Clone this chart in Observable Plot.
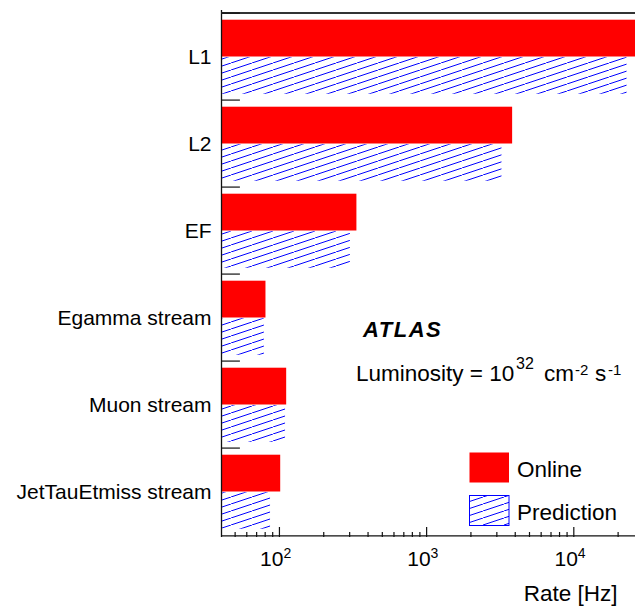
<!DOCTYPE html>
<html><head><meta charset="utf-8">
<script src="https://cdn.jsdelivr.net/npm/d3@7"></script>
<script src="https://cdn.jsdelivr.net/npm/@observablehq/plot@0.6"></script>
<style>
html,body{margin:0;padding:0;background:#fff;overflow:hidden}
svg{font-family:"Liberation Sans",Arial,Helvetica,sans-serif}
</style>
</head><body><div id="chart"></div>
<script>
const categories = ["L1", "L2", "EF", "Egamma stream", "Muon stream", "JetTauEtmiss stream"];
const online = [30000, 3840, 336, 81, 112, 102];
const prediction = [23000, 3250, 303, 79, 110, 87];
const majorTicks = [100, 1000, 10000];
const tickExponents = ["2", "3", "4"];
const minorTicks = [50, 60, 70, 80, 90, 200, 300, 400, 500, 600, 700, 800, 900,
  2000, 3000, 4000, 5000, 6000, 7000, 8000, 9000, 20000];
const xDomain = [40.4, 26250];
const xLabel = "Rate [Hz]";
const legendLabels = ["Online", "Prediction"];

const lo = xDomain[0];
const rows = categories.map((c, i) => ({cat: c, online: online[i], prediction: prediction[i]}));
const half = 527 / 6 / 2;

const svg = Plot.plot({
  width: 635, height: 613,
  marginTop: 10, marginLeft: 221, marginRight: 0, marginBottom: 76,
  style: {background: "white", color: "black", fontFamily: '"Liberation Sans", Arial, sans-serif'},
  x: {type: "log", domain: xDomain, axis: null},
  y: {domain: categories, padding: 0, axis: null},
  marks: [
    Plot.barX(rows, {y: "cat", x1: lo, x2: "online", fill: "#ff0000", insetTop: 6.7, insetBottom: 43.5, clip: true}),
    Plot.barX(rows, {y: "cat", x1: lo, x2: "prediction", fill: "url(#hatch)", insetTop: 44.3, insetBottom: 6.3, clip: true}),
    // frame
    Plot.ruleX([lo], {stroke: "#111", strokeWidth: 1.3}),
    Plot.ruleY([categories[0]], {dy: -half, stroke: "#333", strokeWidth: 2}),
    Plot.ruleY([categories[categories.length - 1]], {dy: half, stroke: "#111", strokeWidth: 1.3}),
    // y ticks at band boundaries
    Plot.ruleY(categories, {x1: lo, x2: 54.3, dy: -half, stroke: "#111", strokeWidth: 1.2}),
    // x ticks (inward)
    Plot.tickX(majorTicks, {x: d => d, insetTop: 517, stroke: "#111", strokeWidth: 1.2}),
    Plot.tickX(minorTicks, {x: d => d, insetTop: 522, stroke: "#111", strokeWidth: 1.2}),
    // y labels
    Plot.text(categories, {y: d => d, frameAnchor: "left", textAnchor: "end", dx: -10, fontSize: 21, fill: "black"}),
    // x tick labels
    Plot.text(majorTicks, {x: d => d, frameAnchor: "bottom", text: () => "10", textAnchor: "end", dx: 4, dy: 28, fontSize: 21, fill: "black"}),
    Plot.text(majorTicks, {x: d => d, frameAnchor: "bottom", text: (d, i) => tickExponents[i], textAnchor: "start", dx: 4, dy: 20, fontSize: 14, fill: "black"}),
    // x label
    Plot.text([xLabel], {frameAnchor: "bottom-right", text: d => d, textAnchor: "end", dx: -18, dy: 63, fontSize: 22.5, fill: "black"})
  ]
});

const s = d3.select(svg);
const defs = s.insert("defs", ":first-child");
const pat = defs.append("pattern").attr("id", "hatch").attr("patternUnits", "userSpaceOnUse")
  .attr("width", 21).attr("height", 7);
pat.append("line").attr("x1", 0).attr("y1", 7).attr("x2", 21).attr("y2", 0)
  .attr("stroke", "#0000ff").attr("stroke-width", 1);

const ann = s.append("g").attr("font-family", '"Liberation Sans", Arial, sans-serif')
  .attr("fill", "black").attr("text-anchor", "start");
ann.append("text").attr("x", 363).attr("y", 337).attr("font-size", 22).attr("letter-spacing", 1.5)
  .attr("font-weight", "bold").attr("font-style", "italic").text("ATLAS");
const lum = ann.append("text").attr("y", 381).attr("font-size", 22.5);
lum.append("tspan").attr("x", 356).text("Luminosity = 10");
lum.append("tspan").attr("x", 516).attr("y", 369).attr("font-size", 16).text("32");
lum.append("tspan").attr("x", 544).attr("y", 381).text("cm");
lum.append("tspan").attr("x", 575).attr("y", 375).attr("font-size", 15).text("-2");
lum.append("tspan").attr("x", 595).attr("y", 381).text("s");
lum.append("tspan").attr("x", 608).attr("y", 375).attr("font-size", 15).text("-1");

// legend
ann.append("rect").attr("x", 469.5).attr("y", 452.5).attr("width", 39.5).attr("height", 30).attr("fill", "#ff0000");
ann.append("rect").attr("x", 469.5).attr("y", 495.5).attr("width", 39.5).attr("height", 30)
  .attr("fill", "url(#hatch)").attr("stroke", "#0000ff").attr("stroke-width", 1);
ann.append("text").attr("x", 517).attr("y", 477).attr("font-size", 22.5).text(legendLabels[0]);
ann.append("text").attr("x", 517).attr("y", 520).attr("font-size", 22.5).text(legendLabels[1]);

document.getElementById("chart").appendChild(svg);
</script>
</body></html>
